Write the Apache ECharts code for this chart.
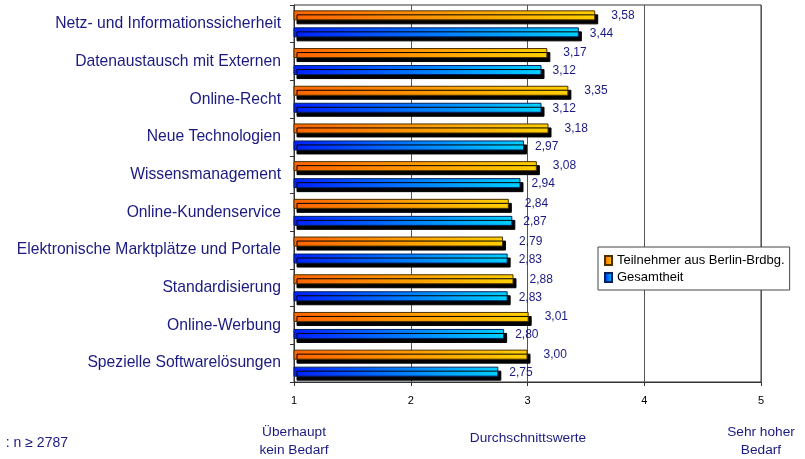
<!DOCTYPE html>
<html><head><meta charset="utf-8">
<script src="https://cdn.jsdelivr.net/npm/echarts@6/dist/echarts.min.js"></script>
<style>html,body{margin:0;padding:0;background:#fff}#c{width:805px;height:459px}</style>
</head><body><div id="c"></div>
<script>
const categories = ["Netz- und Informationssicherheit","Datenaustausch mit Externen","Online-Recht","Neue Technologien","Wissensmanagement","Online-Kundenservice","Elektronische Marktplätze und Portale","Standardisierung","Online-Werbung","Spezielle Softwarelösungen"];
const berlin = [3.58,3.17,3.35,3.18,3.08,2.84,2.79,2.88,3.01,3.00];
const gesamt = [3.44,3.12,3.12,2.97,2.94,2.87,2.83,2.83,2.80,2.75];
const xTicks = [1,2,3,4,5];
const seriesNames = ["Teilnehmer aus Berlin-Brdbg.","Gesamtheit"];

const F = "'Liberation Sans', Arial, sans-serif";
const navy = '#1a1a80';
const grad = (a,b) => new echarts.graphic.LinearGradient(0,0,1,0,[{offset:0,color:a},{offset:1,color:b}]);
const fmt = v => v.toFixed(2).replace('.', ',');

const chart = echarts.init(document.getElementById('c'), null, {renderer:'canvas'});
chart.setOption({
  animation:false,
  textStyle:{fontFamily:F},
  grid:{left:294,right:44,top:5,bottom:77,show:true,borderColor:'#333',borderWidth:1,backgroundColor:'transparent'},
  legend:{
    orient:'vertical', left:598, top:247, itemWidth:7, itemHeight:9, itemGap:4,
    padding:[7,5,6,6], borderColor:'#444', borderWidth:1, backgroundColor:'#fff',
    textStyle:{fontFamily:F,fontSize:13,color:'#000'},
    data:[{name:seriesNames[0],icon:'rect'},{name:seriesNames[1],icon:'rect'}]
  },
  xAxis:{
    type:'value', min:1, max:5, interval:1,
    axisLine:{show:true,lineStyle:{color:'#333'}},
    axisTick:{show:true,length:4,lineStyle:{color:'#333'}},
    axisLabel:{fontSize:11,color:'#000',margin:13,formatter:v=>xTicks.includes(v)?String(v):''},
    splitLine:{show:true,lineStyle:{color:'#555',width:1}}
  },
  yAxis:{
    type:'category', data:categories, inverse:true,
    axisLine:{show:true,lineStyle:{color:'#333'}},
    axisTick:{show:true,length:4,lineStyle:{color:'#333'}},
    axisLabel:{fontSize:15.7,color:navy,margin:13}
  },
  series:[
    {name:seriesNames[0], type:'bar', data:berlin, barWidth:10, barGap:'70%',
     itemStyle:{color:grad('#ff6400','#ffd000'),borderColor:'#4a3000',borderWidth:1,shadowColor:'#000',shadowOffsetX:3,shadowOffsetY:4,shadowBlur:0},
     label:{show:true,position:'right',distance:16,offset:[0,0],fontSize:12,color:navy,formatter:p=>fmt(p.value)}},
    {name:seriesNames[1], type:'bar', data:gesamt, barWidth:10,
     itemStyle:{color:grad('#0020ff','#00d0ff'),borderColor:'#00205a',borderWidth:1,shadowColor:'#000',shadowOffsetX:3,shadowOffsetY:4,shadowBlur:0},
     label:{show:true,position:'right',distance:11,offset:[0,1],fontSize:12,color:navy,formatter:p=>fmt(p.value)}}
  ],
  graphic:[
    {type:'text',x:68,y:436,style:{text:': n ≥ 2787',font:'14px '+F,fill:navy,align:'right'}},
    {type:'text',x:294,y:423,style:{text:'Überhaupt\nkein Bedarf',font:'13.7px '+F,fill:navy,align:'center',lineHeight:18}},
    {type:'text',x:528,y:431,style:{text:'Durchschnittswerte',font:'13.7px '+F,fill:navy,align:'center'}},
    {type:'text',x:761,y:423,style:{text:'Sehr hoher\nBedarf',font:'13.7px '+F,fill:navy,align:'center',lineHeight:18}}
  ]
});
</script></body></html>
